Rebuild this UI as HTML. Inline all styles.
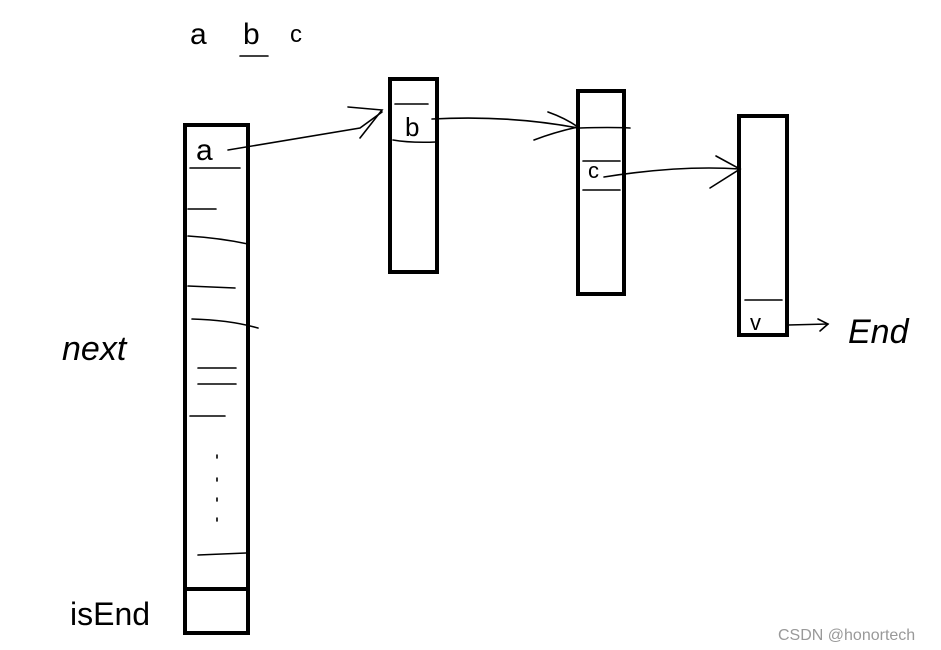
<!DOCTYPE html>
<html><head><meta charset="utf-8"><style>
html,body{margin:0;padding:0;background:#fff;width:941px;height:650px;overflow:hidden}
</style></head><body>
<svg width="941" height="650" viewBox="0 0 941 650" xmlns="http://www.w3.org/2000/svg">
<rect width="941" height="650" fill="#fff"/>
<g fill="none" stroke="#000" stroke-width="4">
<rect x="185" y="125" width="63" height="508"/>
<rect x="390" y="79" width="47" height="193"/>
<rect x="578" y="91" width="46" height="203"/>
<rect x="739" y="116" width="48" height="219"/>
<line x1="185" y1="589" x2="248" y2="589"/>
</g>
<g fill="none" stroke="#000" stroke-width="1.6" stroke-linecap="round">
<path d="M190 168 L240 168"/>
<path d="M188 209 L216 209"/>
<path d="M188 236 Q220 238 248 244"/>
<path d="M188 286 L235 288"/>
<path d="M192 319 Q230 320 258 328"/>
<path d="M198 368 L236 368"/>
<path d="M198 384 L236 384"/>
<path d="M190 416 L225 416"/>
<path d="M198 555 L246 553"/>
<path d="M217 455 L217 458 M217 478 L217 481 M217 498 L217 501 M217 518 L217 521"/>
<path d="M395 104 L428 104"/>
<path d="M393 140 Q410 143 436 142"/>
<path d="M580 128 Q610 127 630 128"/>
<path d="M583 161 L620 161"/>
<path d="M583 190 L620 190"/>
<path d="M745 300 L782 300"/>
<path d="M228 150 Q300 138 360 128 L382 112"/>
<path d="M348 107 L382 110 L360 138"/>
<path d="M432 119 Q510 115 578 128"/>
<path d="M548 112 Q565 118 578 127 Q555 132 534 140"/>
<path d="M604 177 Q680 165 740 169"/>
<path d="M716 156 L740 169 L710 188"/>
<path d="M788 325 L828 324"/>
<path d="M818 319 L828 324 L820 331"/>
<path d="M240 56 L268 56"/>
</g>
<g font-family="Liberation Sans, sans-serif" fill="#000">
<text x="196" y="160" font-size="30">a</text>
<text x="405" y="136" font-size="26">b</text>
<text x="588" y="178" font-size="22">c</text>
<text x="750" y="330" font-size="22">v</text>
<text x="190" y="44" font-size="30">a</text>
<text x="243" y="44" font-size="30">b</text>
<text x="290" y="42" font-size="24">c</text>
<text x="62" y="360" font-size="34" font-style="italic">next</text>
<text x="70" y="625" font-size="32">isEnd</text>
<text x="848" y="343" font-size="34" font-style="italic">End</text>
<text x="778" y="640" font-size="16" fill="#999">CSDN @honortech</text>
</g>
</svg>
</body></html>
